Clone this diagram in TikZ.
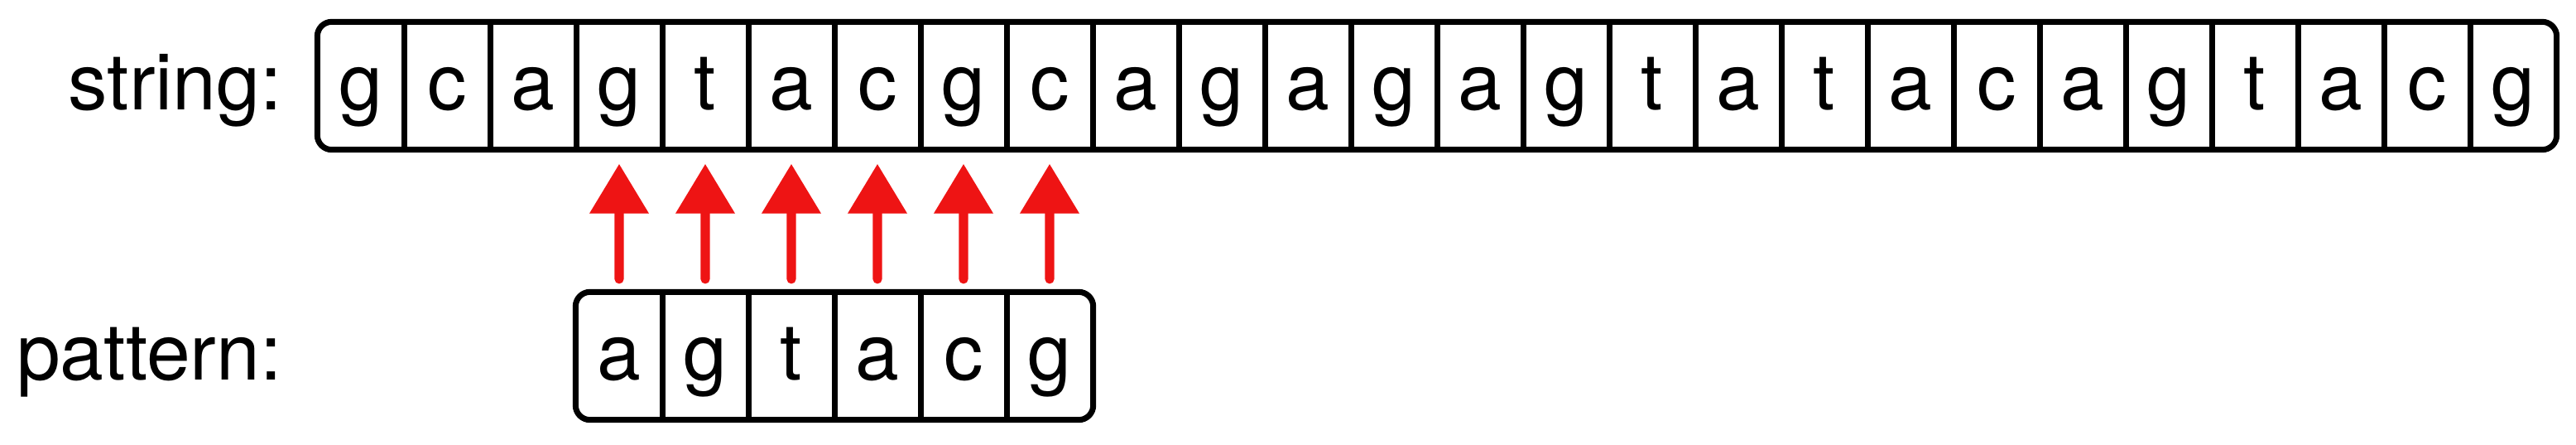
\documentclass[tikz,border=0pt]{standalone}
\usepackage{fontspec}
\setmainfont{TeX Gyre Heros}
\definecolor{matchred}{HTML}{EE1414}
\usetikzlibrary{arrows.meta,positioning}

\begin{document}
\begin{tikzpicture}[
  cell/.style={minimum width=1.04cm, minimum height=1.53cm, inner sep=0pt,
    text height=0.70cm, text depth=0.13cm, font=\fontsize{27}{30}\selectfont},
  lbl/.style={inner sep=0pt, text height=0.70cm, text depth=0.13cm,
    font=\fontsize{27}{30}\selectfont},
  boxline/.style={draw=black, line width=2pt},
  match/.style={draw=matchred, line width=3.2pt, line cap=round,
    -{Triangle[width=0.69cm,length=0.60cm]},
    shorten <=0.155cm, shorten >=0.17cm}]
  \useasboundingbox (0,0) rectangle (31.12,5.36);

  \foreach \ch [count=\i] in {g,c,a,g,t,a,c,g,c,a,g,a,g,a,g,t,a,t,a,c,a,g,t,a,c,g}
    \node[cell] (s\i) at ({3.84+(\i-0.5)*1.04},4.325) {\ch};
  \draw[boxline, rounded corners=5pt] (s1.south west) rectangle (s26.north east);
  \foreach \i in {1,...,25}
    \draw[boxline] (s\i.north east) -- (s\i.south east);

  \foreach \ch [count=\i] in {a,g,t,a,c,g}
    \node[cell] (p\i) at ({6.96+(\i-0.5)*1.04},1.065) {\ch};
  \draw[boxline, rounded corners=5pt] (p1.south west) rectangle (p6.north east);
  \foreach \i in {1,...,5}
    \draw[boxline] (p\i.north east) -- (p\i.south east);

  \node[lbl, left=0.42cm of s1] (strlbl) {string:};
  \node[lbl, anchor=east] (patlbl) at (strlbl.east |- p1.west) {pattern:};

  \foreach \i in {1,...,6} {
    \pgfmathtruncatemacro\j{\i+3}
    \draw[match] (p\i.north) -- (s\j.south);
  }
\end{tikzpicture}
\end{document}
